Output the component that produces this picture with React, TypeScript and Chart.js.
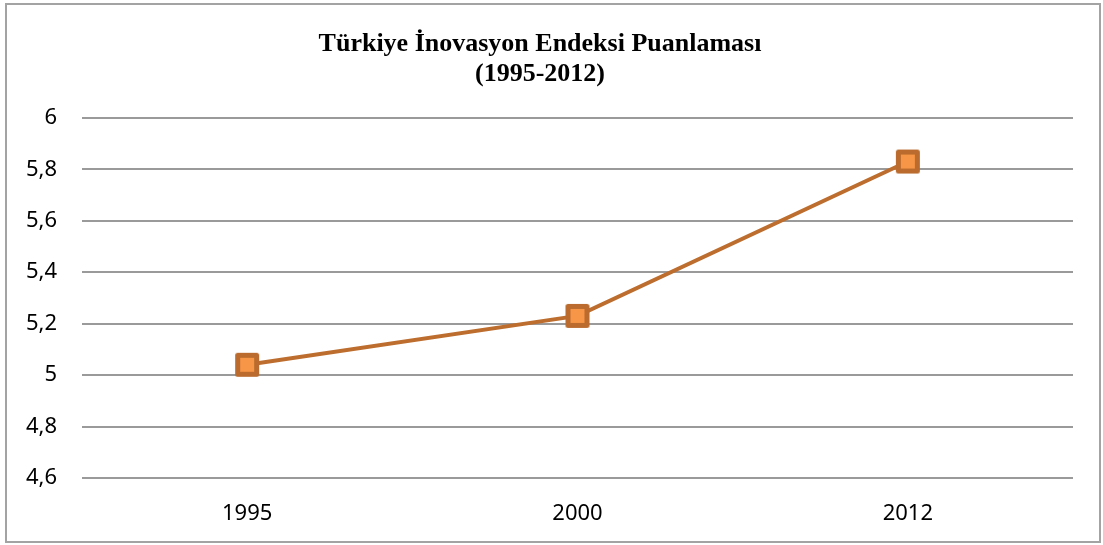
import React, { useEffect, useRef } from "react";
import { Chart, registerables } from "chart.js";

Chart.register(...registerables);

const titleLines = ["Türkiye İnovasyon Endeksi Puanlaması", "(1995-2012)"];
const years = ["1995", "2000", "2012"];
const scores = [5.04, 5.23, 5.83];
const yMin = 4.6;
const yMax = 6;
const yStep = 0.2;

function makeMarker(): HTMLCanvasElement {
  const c = document.createElement("canvas");
  c.width = 26;
  c.height = 26;
  const ctx = c.getContext("2d")!;
  ctx.lineJoin = "round";
  ctx.lineWidth = 5;
  ctx.fillStyle = "#F79646";
  ctx.strokeStyle = "#BA6B2D";
  ctx.beginPath();
  ctx.rect(3.5, 3.5, 19, 19);
  ctx.fill();
  ctx.stroke();
  return c;
}

export default function App() {
  const ref = useRef<HTMLCanvasElement | null>(null);
  useEffect(() => {
    if (!ref.current) return;
    const marker = makeMarker();
    const chart = new Chart(ref.current, {
      type: "line",
      data: {
        labels: years,
        datasets: [
          {
            data: scores,
            borderColor: "#BD6E2F",
            borderWidth: 4,
            pointStyle: marker as any,
            pointRadius: 12,
            pointHoverRadius: 12,
            tension: 0,
          },
        ],
      },
      options: {
        animation: false,
        responsive: false,
        maintainAspectRatio: false,
        layout: { padding: { left: 0, right: 26, top: 0, bottom: 0 } },
        plugins: {
          legend: { display: false },
          tooltip: { enabled: false },
          title: {
            display: true,
            text: titleLines,
            color: "#000000",
            font: { family: "'Liberation Serif', 'Times New Roman', serif", size: 26, weight: "bold", lineHeight: 1.15 },
            padding: { top: 24, bottom: 29 },
          },
        },
        scales: {
          x: {
            offset: true,
            grid: { display: false, drawTicks: false },
            border: { display: false },
            afterFit: (scale: any) => {
              scale.height = 63;
            },
            ticks: {
              color: "#000000",
              padding: 23,
              font: { family: "'Noto Sans', 'Liberation Sans', sans-serif", size: 22 },
            },
          },
          y: {
            min: yMin,
            max: yMax,
            grid: { color: "#9a9a9a", lineWidth: 2, drawTicks: false },
            border: { display: false },
            afterFit: (scale: any) => {
              scale.width = 75;
            },
            ticks: {
              stepSize: yStep,
              color: "#000000",
              padding: 25,
              font: { family: "'Noto Sans', 'Liberation Sans', sans-serif", size: 22 },
              callback: (v: any) => String(Number(Number(v).toFixed(1))).replace(".", ","),
            },
          },
        },
      },
    });
    return () => chart.destroy();
  }, []);
  return (
    <div style={{ position: "absolute", left: 0, top: 0, width: 1103, height: 545, background: "#fff" }}>
      <div
        style={{
          position: "absolute",
          left: 5,
          top: 3,
          width: 1096,
          height: 540,
          border: "2px solid #a3a3a3",
          boxSizing: "border-box",
        }}
      >
        <canvas ref={ref} width={1092} height={536} style={{ display: "block", width: 1092, height: 536 }} />
      </div>
    </div>
  );
}
